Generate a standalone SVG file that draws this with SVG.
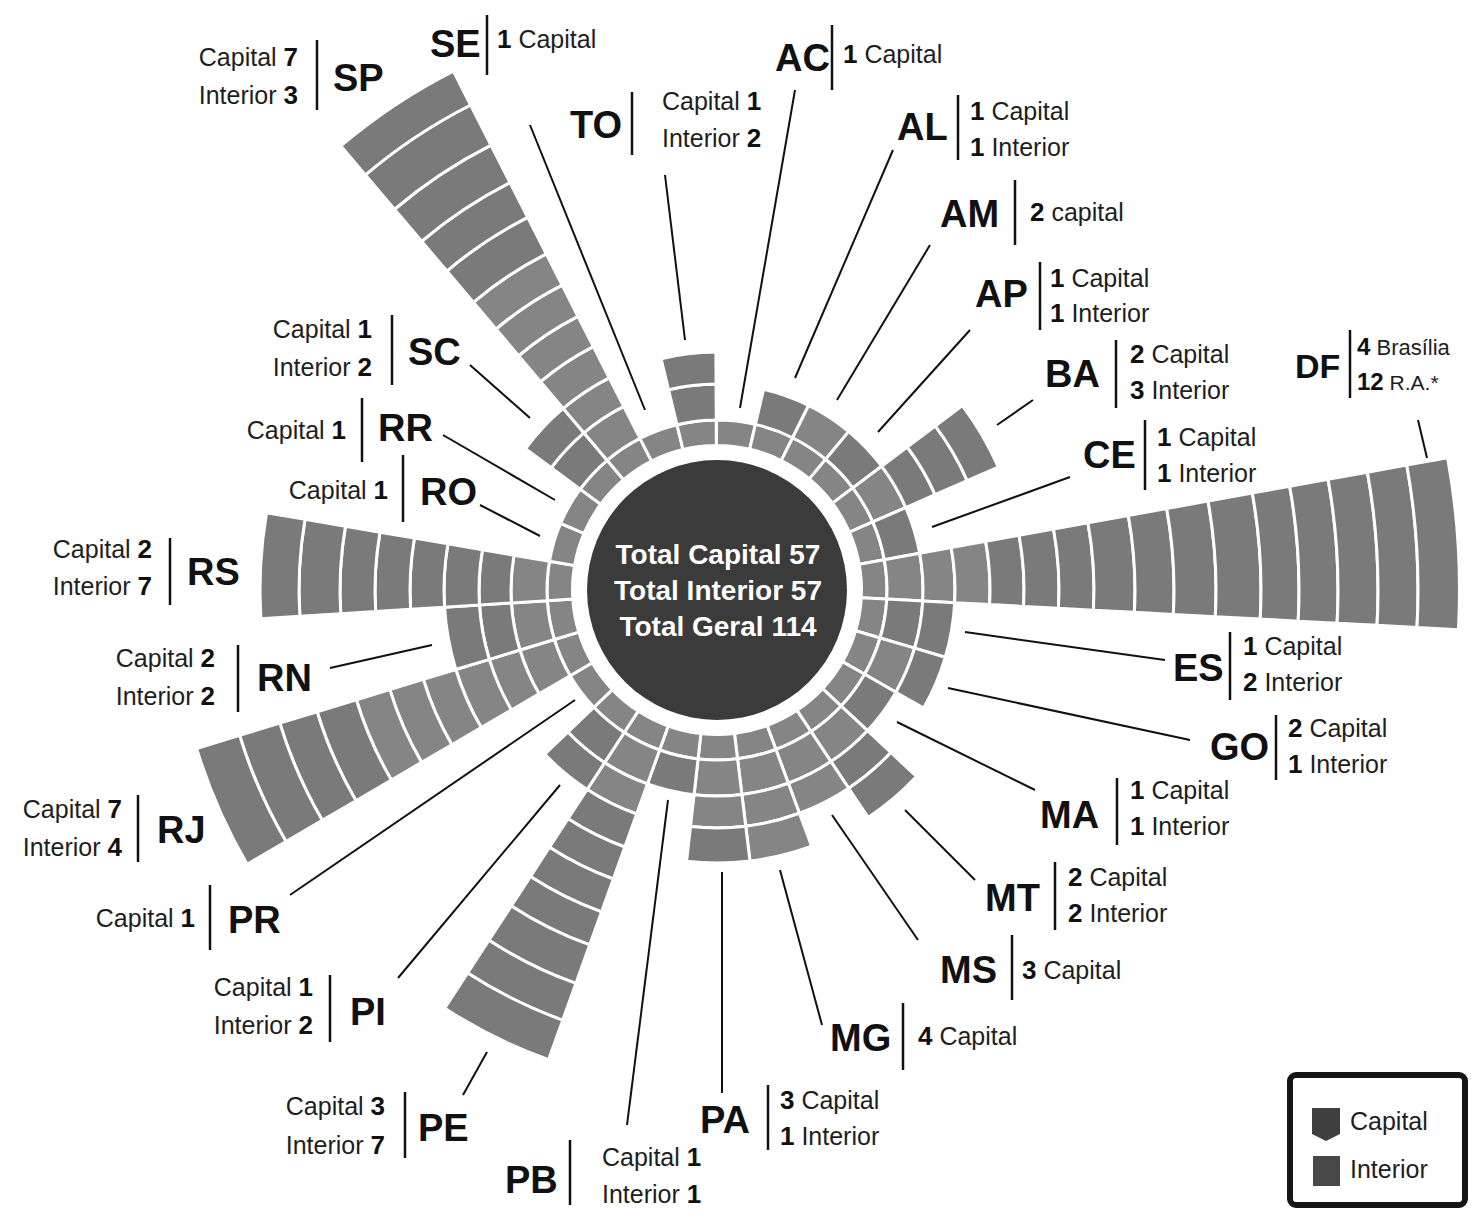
<svg xmlns="http://www.w3.org/2000/svg" xmlns:xlink="http://www.w3.org/1999/xlink" width="1472" height="1213" viewBox="0 0 1472 1213">
<style>
.c{fill:#858585;stroke:#fff;stroke-width:3}
.i{fill:#7a7a7a;stroke:#fff;stroke-width:3}
.t{font-family:"Liberation Sans",Arial,sans-serif;font-size:25px;fill:#1e1e1e}
.n{font-weight:bold;font-size:26px;fill:#111}
.k{font-family:"Liberation Sans",Arial,sans-serif;font-weight:bold;font-size:38px;fill:#111}
.bar{stroke:#111;stroke-width:2.5}
.ld{stroke:#111;stroke-width:2;fill:none}
.tot{font-family:"Liberation Sans",Arial,sans-serif;font-weight:bold;font-size:28px;fill:#fff;text-anchor:middle}
</style>
<defs>
<path id="r0" d="M-16.78,-143.52L-19.74,-168.85A170,170 0 0 1 19.74,-168.85L16.78,-143.52A144.5,144.5 0 0 0 -16.78,-143.52Z"/>
<path id="r1" d="M-19.74,-168.85L-23.92,-204.61A206,206 0 0 1 23.92,-204.61L19.74,-168.85A170,170 0 0 0 -19.74,-168.85Z"/>
<path id="r2" d="M-23.92,-204.61L-27.63,-236.39A238,238 0 0 1 27.63,-236.39L23.92,-204.61A206,206 0 0 0 -23.92,-204.61Z"/>
<path id="r3" d="M-27.63,-236.39L-31.69,-271.16A273,273 0 0 1 31.69,-271.16L27.63,-236.39A238,238 0 0 0 -27.63,-236.39Z"/>
<path id="r4" d="M-31.69,-271.16L-35.64,-304.93A307,307 0 0 1 35.64,-304.93L31.69,-271.16A273,273 0 0 0 -31.69,-271.16Z"/>
<path id="r5" d="M-35.64,-304.93L-39.70,-339.69A342,342 0 0 1 39.70,-339.69L35.64,-304.93A307,307 0 0 0 -35.64,-304.93Z"/>
<path id="r6" d="M-39.70,-339.69L-43.77,-374.45A377,377 0 0 1 43.77,-374.45L39.70,-339.69A342,342 0 0 0 -39.70,-339.69Z"/>
<path id="r7" d="M-43.77,-374.45L-48.53,-415.17A418,418 0 0 1 48.53,-415.17L43.77,-374.45A377,377 0 0 0 -43.77,-374.45Z"/>
<path id="r8" d="M-48.53,-415.17L-53.05,-453.91A457,457 0 0 1 53.05,-453.91L48.53,-415.17A418,418 0 0 0 -48.53,-415.17Z"/>
<path id="r9" d="M-53.05,-453.91L-57.93,-495.63A499,499 0 0 1 57.93,-495.63L53.05,-453.91A457,457 0 0 0 -53.05,-453.91Z"/>
<path id="r10" d="M-57.93,-495.63L-63.15,-540.32A544,544 0 0 1 63.15,-540.32L57.93,-495.63A499,499 0 0 0 -57.93,-495.63Z"/>
<path id="r11" d="M-63.15,-540.32L-67.56,-578.07A582,582 0 0 1 67.56,-578.07L63.15,-540.32A544,544 0 0 0 -63.15,-540.32Z"/>
<path id="r12" d="M-67.56,-578.07L-72.09,-616.80A621,621 0 0 1 72.09,-616.80L67.56,-578.07A582,582 0 0 0 -67.56,-578.07Z"/>
<path id="r13" d="M-72.09,-616.80L-76.74,-656.53A661,661 0 0 1 76.74,-656.53L72.09,-616.80A621,621 0 0 0 -72.09,-616.80Z"/>
<path id="r14" d="M-76.74,-656.53L-81.38,-696.26A701,701 0 0 1 81.38,-696.26L76.74,-656.53A661,661 0 0 0 -76.74,-656.53Z"/>
<path id="r15" d="M-81.38,-696.26L-86.20,-737.48A742.5,742.5 0 0 1 86.20,-737.48L81.38,-696.26A701,701 0 0 0 -81.38,-696.26Z"/>
</defs>
<rect width="1472" height="1213" fill="#fff"/>

<g id="center">
<circle cx="717" cy="590" r="130" fill="#3b3b3b"/>
<text class="tot" x="718" y="564">Total Capital 57</text>
<text class="tot" x="718" y="600">Total Interior 57</text>
<text class="tot" x="718" y="636">Total Geral 114</text>
</g>

<g id="connectors">
<line class="ld" x1="530" y1="125" x2="645" y2="410"/>
<line class="ld" x1="665" y1="175" x2="685" y2="340"/>
<line class="ld" x1="795" y1="90" x2="740" y2="408"/>
<line class="ld" x1="893" y1="150" x2="795" y2="378"/>
<line class="ld" x1="930" y1="245" x2="837" y2="400"/>
<line class="ld" x1="970" y1="330" x2="878" y2="432"/>
<line class="ld" x1="1033" y1="400" x2="997" y2="425"/>
<line class="ld" x1="1070" y1="477" x2="932" y2="527"/>
<line class="ld" x1="1418" y1="420" x2="1427" y2="458"/>
<line class="ld" x1="965" y1="632" x2="1165" y2="660"/>
<line class="ld" x1="948" y1="688" x2="1190" y2="740"/>
<line class="ld" x1="897" y1="722" x2="1035" y2="790"/>
<line class="ld" x1="905" y1="810" x2="975" y2="880"/>
<line class="ld" x1="832" y1="815" x2="918" y2="940"/>
<line class="ld" x1="780" y1="870" x2="822" y2="1025"/>
<line class="ld" x1="722" y1="872" x2="722" y2="1093"/>
<line class="ld" x1="668" y1="800" x2="627" y2="1125"/>
<line class="ld" x1="487" y1="1052" x2="463" y2="1095"/>
<line class="ld" x1="560" y1="785" x2="398" y2="978"/>
<line class="ld" x1="575" y1="700" x2="290" y2="895"/>
<line class="ld" x1="432" y1="645" x2="330" y2="668"/>
<line class="ld" x1="540" y1="536" x2="480" y2="505"/>
<line class="ld" x1="555" y1="500" x2="443" y2="435"/>
<line class="ld" x1="530" y1="418" x2="470" y2="365"/>
</g>

<g id="AC">
<g transform="translate(717 590) rotate(6.4)"><use href="#r0" class="c"/></g>
<text class="k" x="775" y="71">AC</text><line class="bar" x1="832" y1="25" x2="832" y2="90"/>
<text class="t" x="843" y="63"><tspan class="n">1</tspan> Capital</text>
</g>
<g id="AL">
<g transform="translate(717 590) rotate(19.73)"><use href="#r0" class="c"/><use href="#r1" class="i"/></g>
<text class="k" x="897" y="140">AL</text><line class="bar" x1="958" y1="95" x2="958" y2="160"/>
<text class="t" x="970" y="120"><tspan class="n">1</tspan> Capital</text>
<text class="t" x="970" y="156"><tspan class="n">1</tspan> Interior</text>
</g>
<g id="AM">
<g transform="translate(717 590) rotate(33.07)"><use href="#r0" class="c"/><use href="#r1" class="c"/></g>
<text class="k" x="940" y="227">AM</text><line class="bar" x1="1015" y1="180" x2="1015" y2="245"/>
<text class="t" x="1030" y="221"><tspan class="n">2</tspan> capital</text>
</g>
<g id="AP">
<g transform="translate(717 590) rotate(46.4)"><use href="#r0" class="c"/><use href="#r1" class="i"/></g>
<text class="k" x="975" y="307">AP</text><line class="bar" x1="1040" y1="262" x2="1040" y2="330"/>
<text class="t" x="1050" y="287"><tspan class="n">1</tspan> Capital</text>
<text class="t" x="1050" y="322"><tspan class="n">1</tspan> Interior</text>
</g>
<g id="BA">
<g transform="translate(717 590) rotate(59.73)"><use href="#r0" class="c"/><use href="#r1" class="c"/><use href="#r2" class="i"/><use href="#r3" class="i"/><use href="#r4" class="i"/></g>
<text class="k" x="1045" y="387">BA</text><line class="bar" x1="1116" y1="340" x2="1116" y2="408"/>
<text class="t" x="1130" y="363"><tspan class="n">2</tspan> Capital</text>
<text class="t" x="1130" y="399"><tspan class="n">3</tspan> Interior</text>
</g>
<g id="CE">
<g transform="translate(717 590) rotate(73.07)"><use href="#r0" class="c"/><use href="#r1" class="i"/></g>
<text class="k" x="1083" y="468">CE</text><line class="bar" x1="1145" y1="420" x2="1145" y2="490"/>
<text class="t" x="1157" y="446"><tspan class="n">1</tspan> Capital</text>
<text class="t" x="1157" y="482"><tspan class="n">1</tspan> Interior</text>
</g>
<g id="DF">
<g transform="translate(717 590) rotate(86.4)"><use href="#r0" class="c"/><use href="#r1" class="c"/><use href="#r2" class="c"/><use href="#r3" class="c"/><use href="#r4" class="i"/><use href="#r5" class="i"/><use href="#r6" class="i"/><use href="#r7" class="i"/><use href="#r8" class="i"/><use href="#r9" class="i"/><use href="#r10" class="i"/><use href="#r11" class="i"/><use href="#r12" class="i"/><use href="#r13" class="i"/><use href="#r14" class="i"/><use href="#r15" class="i"/></g>
<text class="k" x="1295" y="378" style="font-size:34px">DF</text><line class="bar" x1="1350" y1="330" x2="1350" y2="398"/>
<text class="t" x="1357" y="355" style="font-size:22px"><tspan class="n" style="font-size:24px">4</tspan> Brasília</text>
<text class="t" x="1357" y="390" style="font-size:21px"><tspan class="n" style="font-size:24px">12</tspan> R.A.*</text>
</g>
<g id="ES">
<g transform="translate(717 590) rotate(99.73)"><use href="#r0" class="c"/><use href="#r1" class="i"/><use href="#r2" class="i"/></g>
<text class="k" x="1173" y="681">ES</text><line class="bar" x1="1230" y1="632" x2="1230" y2="700"/>
<text class="t" x="1243" y="655"><tspan class="n">1</tspan> Capital</text>
<text class="t" x="1243" y="691"><tspan class="n">2</tspan> Interior</text>
</g>
<g id="GO">
<g transform="translate(717 590) rotate(113.07)"><use href="#r0" class="c"/><use href="#r1" class="c"/><use href="#r2" class="i"/></g>
<text class="k" x="1210" y="760">GO</text><line class="bar" x1="1276" y1="715" x2="1276" y2="780"/>
<text class="t" x="1288" y="737"><tspan class="n">2</tspan> Capital</text>
<text class="t" x="1288" y="773"><tspan class="n">1</tspan> Interior</text>
</g>
<g id="MA">
<g transform="translate(717 590) rotate(126.4)"><use href="#r0" class="c"/><use href="#r1" class="i"/></g>
<text class="k" x="1040" y="828">MA</text><line class="bar" x1="1117" y1="778" x2="1117" y2="845"/>
<text class="t" x="1130" y="799"><tspan class="n">1</tspan> Capital</text>
<text class="t" x="1130" y="835"><tspan class="n">1</tspan> Interior</text>
</g>
<g id="MT">
<g transform="translate(717 590) rotate(139.73)"><use href="#r0" class="c"/><use href="#r1" class="c"/><use href="#r2" class="i"/><use href="#r3" class="i"/></g>
<text class="k" x="985" y="911">MT</text><line class="bar" x1="1055" y1="862" x2="1055" y2="930"/>
<text class="t" x="1068" y="886"><tspan class="n">2</tspan> Capital</text>
<text class="t" x="1068" y="922"><tspan class="n">2</tspan> Interior</text>
</g>
<g id="MS">
<g transform="translate(717 590) rotate(153.07)"><use href="#r0" class="c"/><use href="#r1" class="c"/><use href="#r2" class="c"/></g>
<text class="k" x="940" y="983">MS</text><line class="bar" x1="1012" y1="935" x2="1012" y2="1000"/>
<text class="t" x="1022" y="979"><tspan class="n">3</tspan> Capital</text>
</g>
<g id="MG">
<g transform="translate(717 590) rotate(166.4)"><use href="#r0" class="c"/><use href="#r1" class="c"/><use href="#r2" class="c"/><use href="#r3" class="c"/></g>
<text class="k" x="830" y="1051">MG</text><line class="bar" x1="903" y1="1003" x2="903" y2="1070"/>
<text class="t" x="918" y="1045"><tspan class="n">4</tspan> Capital</text>
</g>
<g id="PA">
<g transform="translate(717 590) rotate(179.73)"><use href="#r0" class="c"/><use href="#r1" class="c"/><use href="#r2" class="c"/><use href="#r3" class="i"/></g>
<text class="k" x="700" y="1133">PA</text><line class="bar" x1="768" y1="1085" x2="768" y2="1150"/>
<text class="t" x="780" y="1109"><tspan class="n">3</tspan> Capital</text>
<text class="t" x="780" y="1145"><tspan class="n">1</tspan> Interior</text>
</g>
<g id="PB">
<g transform="translate(717 590) rotate(193.07)"><use href="#r0" class="c"/><use href="#r1" class="i"/></g>
<text class="k" x="505" y="1193">PB</text><line class="bar" x1="570" y1="1140" x2="570" y2="1205"/>
<text class="t" x="602" y="1166">Capital <tspan class="n">1</tspan></text>
<text class="t" x="602" y="1203">Interior <tspan class="n">1</tspan></text>
</g>
<g id="PE">
<g transform="translate(717 590) rotate(206.4)"><use href="#r0" class="c"/><use href="#r1" class="c"/><use href="#r2" class="c"/><use href="#r3" class="i"/><use href="#r4" class="i"/><use href="#r5" class="i"/><use href="#r6" class="i"/><use href="#r7" class="i"/><use href="#r8" class="i"/><use href="#r9" class="i"/></g>
<text class="k" x="418" y="1141">PE</text><line class="bar" x1="405" y1="1092" x2="405" y2="1158"/>
<text class="t" x="385" y="1115" text-anchor="end">Capital <tspan class="n">3</tspan></text>
<text class="t" x="385" y="1154" text-anchor="end">Interior <tspan class="n">7</tspan></text>
</g>
<g id="PI">
<g transform="translate(717 590) rotate(219.73)"><use href="#r0" class="c"/><use href="#r1" class="i"/><use href="#r2" class="i"/></g>
<text class="k" x="350" y="1025">PI</text><line class="bar" x1="330" y1="975" x2="330" y2="1042"/>
<text class="t" x="313" y="996" text-anchor="end">Capital <tspan class="n">1</tspan></text>
<text class="t" x="313" y="1034" text-anchor="end">Interior <tspan class="n">2</tspan></text>
</g>
<g id="PR">
<g transform="translate(717 590) rotate(233.07)"><use href="#r0" class="c"/></g>
<text class="k" x="228" y="933">PR</text><line class="bar" x1="210" y1="885" x2="210" y2="950"/>
<text class="t" x="195" y="927" text-anchor="end">Capital <tspan class="n">1</tspan></text>
</g>
<g id="RJ">
<g transform="translate(717 590) rotate(246.4)"><use href="#r0" class="c"/><use href="#r1" class="c"/><use href="#r2" class="c"/><use href="#r3" class="c"/><use href="#r4" class="c"/><use href="#r5" class="c"/><use href="#r6" class="c"/><use href="#r7" class="i"/><use href="#r8" class="i"/><use href="#r9" class="i"/><use href="#r10" class="i"/></g>
<text class="k" x="157" y="843">RJ</text><line class="bar" x1="138" y1="795" x2="138" y2="862"/>
<text class="t" x="122" y="818" text-anchor="end">Capital <tspan class="n">7</tspan></text>
<text class="t" x="122" y="856" text-anchor="end">Interior <tspan class="n">4</tspan></text>
</g>
<g id="RN">
<g transform="translate(717 590) rotate(259.73)"><use href="#r0" class="c"/><use href="#r1" class="c"/><use href="#r2" class="i"/><use href="#r3" class="i"/></g>
<text class="k" x="257" y="691">RN</text><line class="bar" x1="238" y1="645" x2="238" y2="712"/>
<text class="t" x="215" y="667" text-anchor="end">Capital <tspan class="n">2</tspan></text>
<text class="t" x="215" y="705" text-anchor="end">Interior <tspan class="n">2</tspan></text>
</g>
<g id="RS">
<g transform="translate(717 590) rotate(273.07)"><use href="#r0" class="c"/><use href="#r1" class="c"/><use href="#r2" class="i"/><use href="#r3" class="i"/><use href="#r4" class="i"/><use href="#r5" class="i"/><use href="#r6" class="i"/><use href="#r7" class="i"/><use href="#r8" class="i"/></g>
<text class="k" x="187" y="585">RS</text><line class="bar" x1="170" y1="538" x2="170" y2="605"/>
<text class="t" x="152" y="558" text-anchor="end">Capital <tspan class="n">2</tspan></text>
<text class="t" x="152" y="595" text-anchor="end">Interior <tspan class="n">7</tspan></text>
</g>
<g id="RO">
<g transform="translate(717 590) rotate(286.4)"><use href="#r0" class="c"/></g>
<text class="k" x="420" y="505">RO</text><line class="bar" x1="403" y1="455" x2="403" y2="522"/>
<text class="t" x="388" y="499" text-anchor="end">Capital <tspan class="n">1</tspan></text>
</g>
<g id="RR">
<g transform="translate(717 590) rotate(299.73)"><use href="#r0" class="c"/></g>
<text class="k" x="378" y="441">RR</text><line class="bar" x1="362" y1="398" x2="362" y2="462"/>
<text class="t" x="346" y="439" text-anchor="end">Capital <tspan class="n">1</tspan></text>
</g>
<g id="SC">
<g transform="translate(717 590) rotate(313.07)"><use href="#r0" class="c"/><use href="#r1" class="i"/><use href="#r2" class="i"/></g>
<text class="k" x="408" y="365">SC</text><line class="bar" x1="392" y1="315" x2="392" y2="385"/>
<text class="t" x="372" y="338" text-anchor="end">Capital <tspan class="n">1</tspan></text>
<text class="t" x="372" y="376" text-anchor="end">Interior <tspan class="n">2</tspan></text>
</g>
<g id="SP">
<g transform="translate(717 590) rotate(326.4)"><use href="#r0" class="c"/><use href="#r1" class="c"/><use href="#r2" class="c"/><use href="#r3" class="c"/><use href="#r4" class="c"/><use href="#r5" class="c"/><use href="#r6" class="c"/><use href="#r7" class="i"/><use href="#r8" class="i"/><use href="#r9" class="i"/><use href="#r10" class="i"/><use href="#r11" class="i"/></g>
<text class="k" x="333" y="91">SP</text><line class="bar" x1="317" y1="40" x2="317" y2="110"/>
<text class="t" x="298" y="66" text-anchor="end">Capital <tspan class="n">7</tspan></text>
<text class="t" x="298" y="104" text-anchor="end">Interior <tspan class="n">3</tspan></text>
</g>
<g id="SE">
<g transform="translate(717 590) rotate(339.73)"><use href="#r0" class="c"/></g>
<text class="k" x="430" y="57">SE</text><line class="bar" x1="487" y1="15" x2="487" y2="75"/>
<text class="t" x="497" y="48"><tspan class="n">1</tspan> Capital</text>
</g>
<g id="TO">
<g transform="translate(717 590) rotate(353.07)"><use href="#r0" class="c"/><use href="#r1" class="i"/><use href="#r2" class="i"/></g>
<text class="k" x="570" y="138">TO</text><line class="bar" x1="632" y1="92" x2="632" y2="155"/>
<text class="t" x="662" y="110">Capital <tspan class="n">1</tspan></text>
<text class="t" x="662" y="147">Interior <tspan class="n">2</tspan></text>
</g>

<g id="legend">
<rect x="1290" y="1075" width="175" height="130" rx="6" fill="#fff" stroke="#151515" stroke-width="6"/>
<path d="M1312,1108H1340V1134L1326,1141L1312,1134Z" fill="#3f3f3f"/>
<rect x="1313" y="1156" width="27" height="30" fill="#484848"/>
<text class="t" x="1350" y="1130">Capital</text>
<text class="t" x="1350" y="1178">Interior</text>
</g>
</svg>
